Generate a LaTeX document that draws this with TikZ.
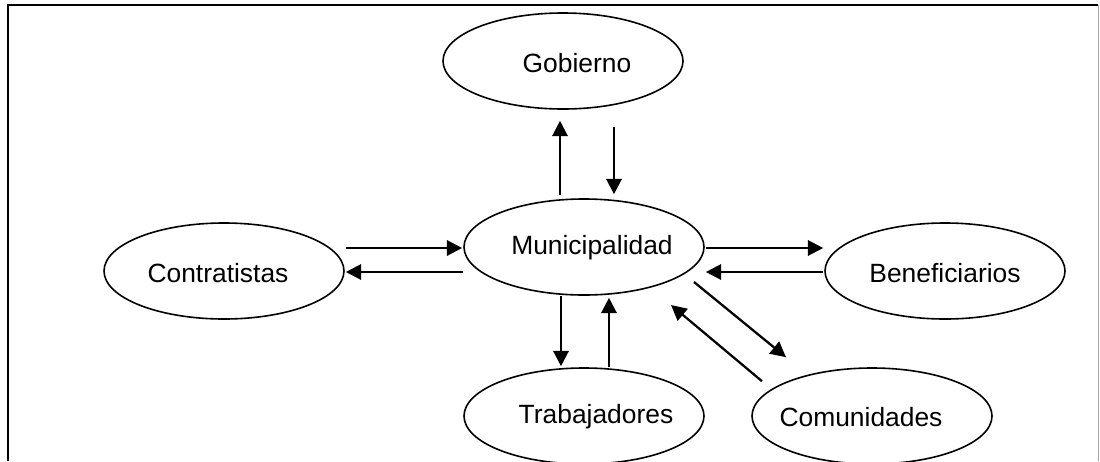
\documentclass[tikz,border=0pt]{standalone}
\usepackage{fontspec}
\setmainfont{Liberation Sans}
\usetikzlibrary{arrows.meta,calc,shapes.geometric}
\begin{document}
\begin{tikzpicture}[x=0.75pt,y=-0.75pt,
  ell/.style={draw, ellipse, line width=1.2pt, minimum width=180pt, minimum height=72pt, inner sep=0pt},
  txt/.style={font=\fontsize{19.8pt}{23pt}\selectfont, inner sep=0pt},
  arr/.style={line width=1.7pt, -{Triangle[length=11.5pt,width=11.5pt]}},
  frame/.style={line width=1.6pt, black}]
\useasboundingbox (0,0) rectangle (1100,461);
\draw[frame] (8,461) -- (8,5) -- (1098,5);
\draw[gray!70, line width=0.75pt] (1098,5) -- (1098,461);

\node[ell] (gob) at (563,61) {};
\node[ell] (muni) at (584,247) {};
\node[ell] (con) at (224,271) {};
\node[ell] (ben) at (945,271) {};
\node[ell] (tra) at (584,416) {};
\node[ell] (com) at (872,416) {};

\node[txt] (gobT) at ($(gob)+(14,2)$) {Gobierno};
\node[txt] (muniT) at ($(muni)+(8,1)$) {Municipalidad};
\node[txt] (conT) at ($(con)+(-6,2)$) {Contratistas};
\node[txt] (benT) at ($(ben)+(0,2)$) {Beneficiarios};
\node[txt] (traT) at ($(tra)+(12,1)$) {Trabajadores};
\node[txt] (comT) at ($(com)+(-11,1)$) {Comunidades};

\draw[arr] ($(muni.north)+(-24,-3)$) -- ($(gob.south)+(-3,11)$);
\draw[arr] ($(gob.south)+(51,17)$) -- ($(muni.north)+(30,-4)$);
\draw[arr] ($(con.east)+(1,-23)$) -- ($(muni.west)+(-1,1)$);
\draw[arr] ($(muni.west)+(0,25)$) -- ($(con.east)+(1,1)$);
\draw[arr] ($(muni.east)+(1,1)$) -- ($(ben.west)+(-1,-23)$);
\draw[arr] ($(ben.west)+(-1,1)$) -- ($(muni.east)+(1,25)$);
\draw[arr] ($(muni.south)+(-23,0)$) -- ($(tra.north)+(-23,-1)$);
\draw[arr] ($(tra.north)+(25,0)$) -- ($(muni.south)+(25,2)$);
\draw[arr] ($(muni)+(110,35)$) -- ($(com.north)+(-86,-10)$);
\draw[arr] ($(com.north)+(-110,14)$) -- ($(muni)+(87,58)$);
\end{tikzpicture}
\end{document}
